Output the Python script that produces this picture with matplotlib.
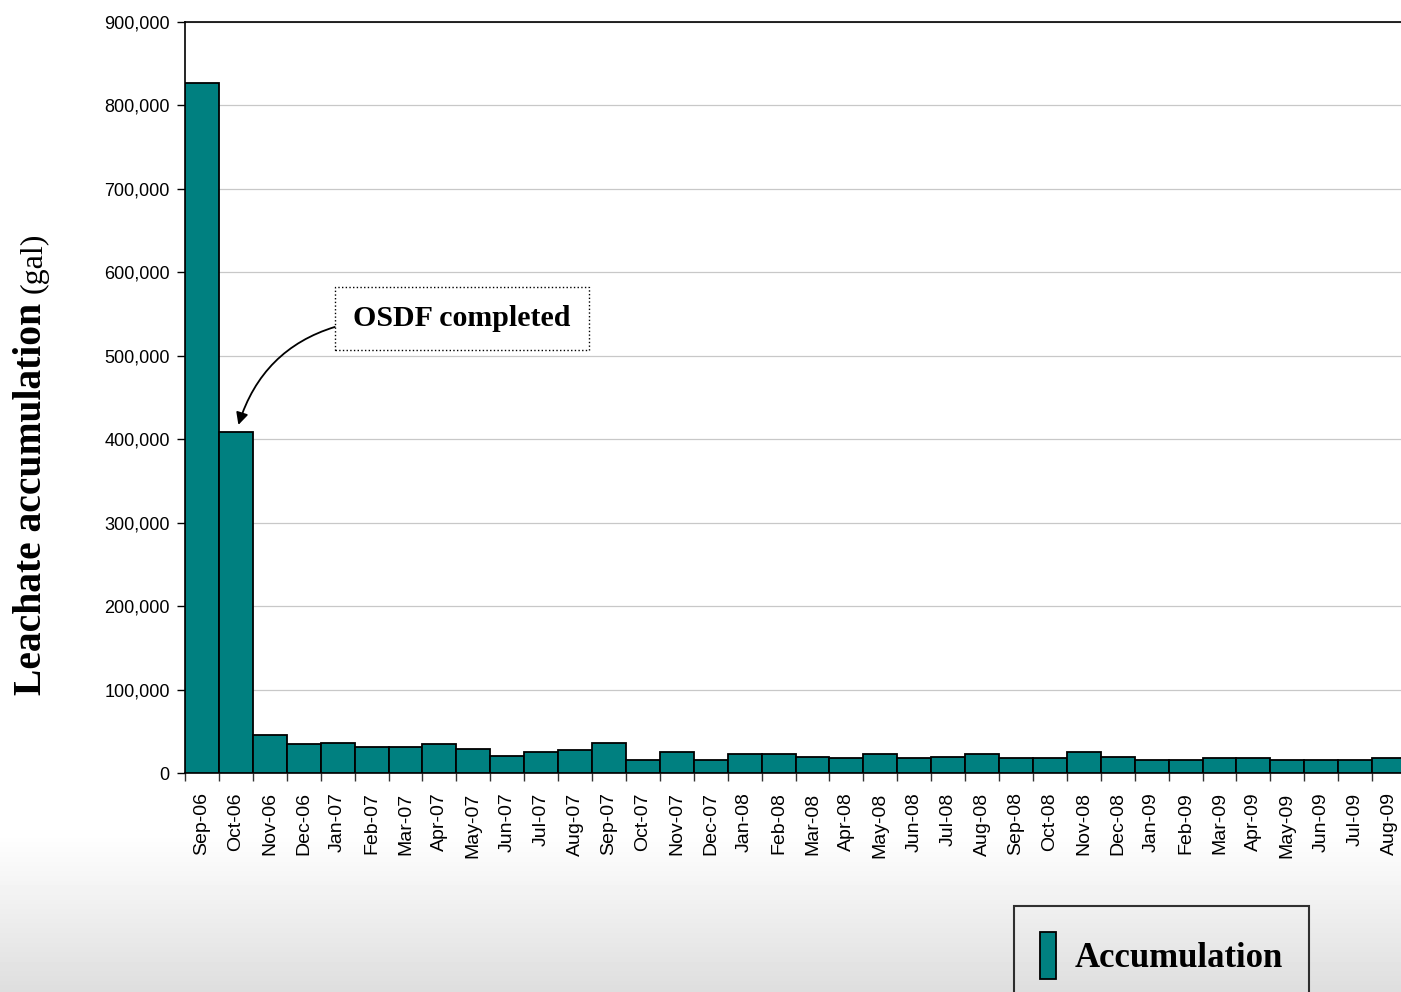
import numpy as np
import matplotlib
matplotlib.use("Agg")
import matplotlib.pyplot as plt
from matplotlib import font_manager
from matplotlib.ticker import FuncFormatter, FixedLocator

# data
months = ["Sep-06", "Oct-06", "Nov-06", "Dec-06", "Jan-07", "Feb-07", "Mar-07", "Apr-07",
          "May-07", "Jun-07", "Jul-07", "Aug-07", "Sep-07", "Oct-07", "Nov-07", "Dec-07",
          "Jan-08", "Feb-08", "Mar-08", "Apr-08", "May-08", "Jun-08", "Jul-08", "Aug-08",
          "Sep-08", "Oct-08", "Nov-08", "Dec-08", "Jan-09", "Feb-09", "Mar-09", "Apr-09",
          "May-09", "Jun-09", "Jul-09", "Aug-09"]
accumulation = [827000, 409000, 46000, 34500, 36500, 31500, 31500, 34500,
                29000, 20000, 25000, 27000, 36500, 15000, 25000, 15000,
                23000, 23000, 19000, 17500, 23000, 17500, 19000, 23000,
                17500, 17500, 25000, 19000, 15000, 15000, 17500, 17500,
                15000, 15000, 15000, 17500]
yticks = list(range(0, 900001, 100000))

names = {f.name for f in font_manager.fontManager.ttflist}
narrow = "Liberation Sans Narrow" if "Liberation Sans Narrow" in names else "Liberation Sans"
serif = "Liberation Serif"

fig = plt.figure(figsize=(14.01, 9.92), dpi=100)

# grey slide background at the bottom
bg = fig.add_axes([0, 0, 1, 1], zorder=-10)
rows = np.linspace(0, 1, 992)
shade = np.where(rows < 0.84, 1.0, 1.0 - (rows - 0.84) / 0.16 * 0.13)
grad = np.repeat(shade[:, None], 10, axis=1)
bg.imshow(grad, cmap="gray", vmin=0, vmax=1, aspect="auto", extent=[0, 1, 0, 1], origin="upper")
bg.set_axis_off()

ax = fig.add_axes([185 / 1401, 1 - 773 / 992, 1221 / 1401, 751 / 992])
ax.set_facecolor("white")
x = np.arange(len(months))
bars = ax.bar(x, accumulation, width=1.0, color="#008080", edgecolor="black",
              linewidth=1.3, label="Accumulation", zorder=3)

ax.set_xlim(-0.5, len(months) - 0.5)
ax.set_ylim(0, 900000)
ax.set_yticks(yticks)
ax.yaxis.set_major_formatter(FuncFormatter(lambda v, p: f"{int(v):,}"))
ax.grid(axis="y", color="#c8c8c8", linewidth=0.9, zorder=0)
ax.set_axisbelow(True)

ax.set_xticks(x)
ax.set_xticklabels(months, rotation=90, fontsize=14, family="Liberation Sans")
ax.xaxis.set_minor_locator(FixedLocator(np.arange(-0.5, len(months), 1.0)))
ax.tick_params(axis="x", which="major", length=0, pad=14)
ax.tick_params(axis="x", which="minor", length=6, width=1.0, color="#333333")
ax.tick_params(axis="y", length=6, width=1.0, pad=5)
for lab in ax.get_yticklabels():
    lab.set_family(narrow)
    lab.set_fontsize(13)

for s in ["left", "bottom", "top"]:
    ax.spines[s].set_color("black")
    ax.spines[s].set_linewidth(1.2)
ax.spines["right"].set_visible(False)

# annotation
ax.annotate("OSDF completed", xy=(1.05, 414000), xytext=(7.67, 545000),
            fontsize=21.5, fontweight="bold", family=serif, ha="center", va="center",
            bbox=dict(boxstyle="square,pad=0.6", fc="white", ec="black", ls=":", lw=1),
            arrowprops=dict(arrowstyle="-|>", color="black", lw=1.3, mutation_scale=18,
                            connectionstyle="arc3,rad=0.3", relpos=(0, 0.35),
                            shrinkA=0, shrinkB=2),
            zorder=5)

# y label
fig.text(32 / 1401, 1 - 695 / 992, "Leachate accumulation", rotation=90, ha="center",
         va="bottom", fontsize=28.5, fontweight="bold", family=serif)
fig.text(34 / 1401, 1 - 293 / 992, "(gal)", rotation=90, ha="center",
         va="bottom", fontsize=23, family=serif)

leg = fig.legend(handles=[bars], loc="upper left", bbox_to_anchor=(1014 / 1401, 1 - 906 / 992),
                 prop=dict(family=serif, weight="bold", size=25),
                 handlelength=0.46, handleheight=1.7, handletextpad=0.55,
                 borderpad=0.75, borderaxespad=0, fancybox=False, frameon=True)
leg.get_frame().set_edgecolor("black")
leg.get_frame().set_linewidth(1.5)
leg.get_frame().set_facecolor("none")

fig.savefig("out.png", dpi=100)
